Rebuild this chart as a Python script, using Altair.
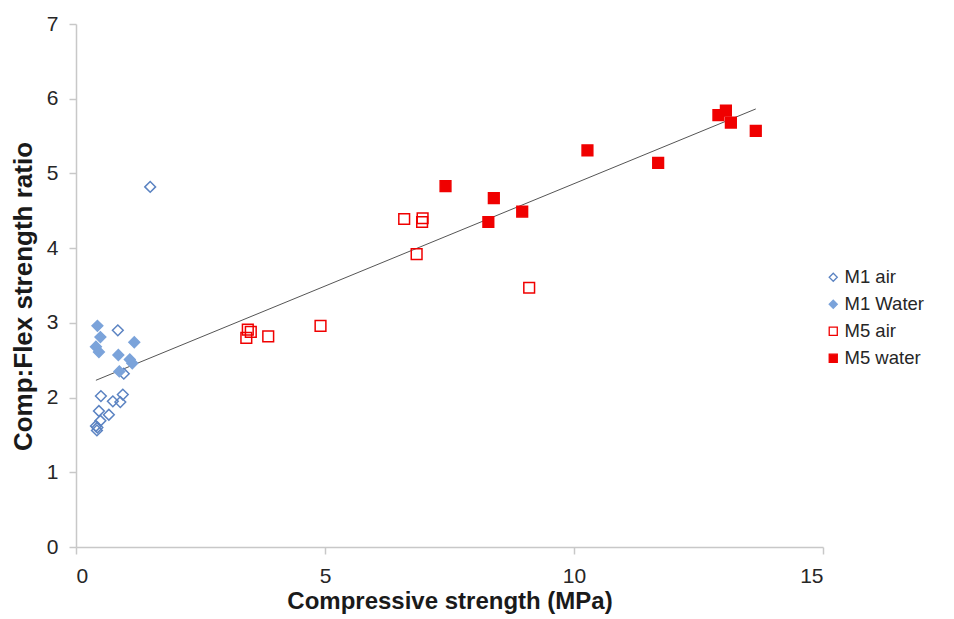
import altair as alt
import pandas as pd

series = ["M1 air", "M1 Water", "M5 air", "M5 water"]

m1_air_x = [1.49, 0.84, 0.96, 0.50, 0.94, 0.74, 0.89, 0.46, 0.66, 0.49, 0.40, 0.42, 0.43]
m1_air_y = [4.82, 2.90, 2.32, 2.02, 2.04, 1.95, 1.94, 1.82, 1.77, 1.69, 1.62, 1.56, 1.60]

m1_water_x = [0.43, 0.49, 0.40, 0.46, 1.17, 0.85, 1.08, 1.13, 0.87]
m1_water_y = [2.96, 2.81, 2.68, 2.61, 2.74, 2.57, 2.51, 2.46, 2.35]

m5_air_x = [6.59, 6.96, 6.95, 6.84, 9.10, 4.91, 3.45, 3.51, 3.42, 3.86]
m5_air_y = [4.39, 4.40, 4.35, 3.92, 3.47, 2.96, 2.91, 2.88, 2.80, 2.82]

m5_water_x = [7.42, 8.39, 8.28, 8.96, 10.27, 11.69, 12.90, 13.05, 13.15, 13.65]
m5_water_y = [4.83, 4.67, 4.35, 4.49, 5.31, 5.14, 5.78, 5.84, 5.68, 5.57]

x_ticks = [0, 5, 10, 15]
y_ticks = [0, 1, 2, 3, 4, 5, 6, 7]

rows = []
for name, xs, ys in [
    ("M1 air", m1_air_x, m1_air_y),
    ("M1 Water", m1_water_x, m1_water_y),
    ("M5 air", m5_air_x, m5_air_y),
    ("M5 water", m5_water_x, m5_water_y),
]:
    for a, b in zip(xs, ys):
        rows.append({"series": name, "x": a, "y": b})
df = pd.DataFrame(rows)

stroke_colors = ["#5B83C2", "#7BA3DA", "#F00000", "#F00000"]
fill_colors = ["transparent", "#7BA3DA", "transparent", "#F00000"]
shapes = ["diamond", "diamond", "square", "square"]

X = alt.X(
    "x:Q",
    scale=alt.Scale(domain=[0, 15], nice=False, zero=True),
    axis=alt.Axis(values=x_ticks, title="Compressive strength (MPa)",
                  labelPadding=11, titlePadding=3, titleFontSize=24),
)
Y = alt.Y(
    "y:Q",
    scale=alt.Scale(domain=[0, 7], nice=False),
    axis=alt.Axis(values=y_ticks, title="Comp:Flex strength ratio",
                  labelPadding=11, titlePadding=10, titleFontSize=26, titleY=272),
)

legend = alt.Legend(
    title=None, orient="none", legendX=748, legendY=244,
    labelFontSize=18.5, labelFont="Liberation Sans", labelColor="#262626",
    symbolSize=65, symbolStrokeWidth=1.3, rowPadding=8, labelOffset=2,
)

trend = (
    alt.Chart(df)
    .transform_regression("x", "y")
    .mark_line(color="#555555", strokeWidth=1)
    .encode(x=X, y=Y)
)

points = (
    alt.Chart(df)
    .mark_point(filled=False, strokeWidth=1.5, opacity=1, size=115)
    .encode(
        x=X,
        y=Y,
        color=alt.Color("series:N", scale=alt.Scale(domain=series, range=stroke_colors), legend=legend),
        fill=alt.Fill("series:N", scale=alt.Scale(domain=series, range=fill_colors), legend=legend),
        shape=alt.Shape("series:N", scale=alt.Scale(domain=series, range=shapes), legend=legend),
    )
)

chart = (
    alt.layer(trend, points)
    .properties(width=747, height=523, padding={"left": 2, "top": 5, "right": 5, "bottom": 3})
    .configure_view(stroke=None)
    .configure_axis(
        grid=False,
        domainColor="#C8C8C8",
        domainWidth=1.5,
        tickColor="#C8C8C8",
        tickWidth=1.5,
        tickSize=7,
        labelFont="Liberation Sans",
        labelFontSize=21,
        labelColor="#262626",
        titleFont="Liberation Sans",
        titleFontWeight="bold",
        titleColor="#1a1a1a",
    )
)

chart.save("out.html", embed_options={"renderer": "svg", "actions": False})
